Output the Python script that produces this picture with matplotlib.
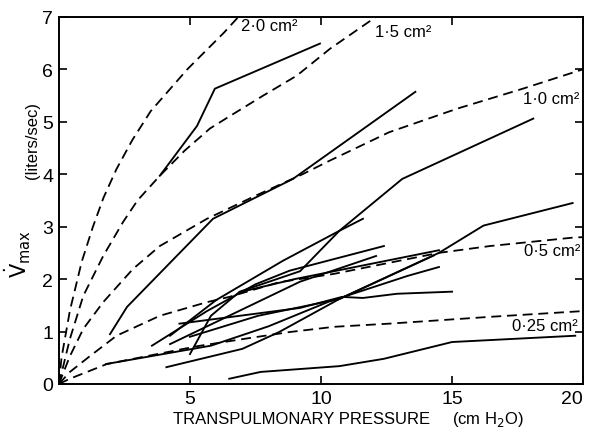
import matplotlib
matplotlib.use('Agg')
import matplotlib.pyplot as plt

plt.rcParams['font.family'] = ['Liberation Sans', 'DejaVu Sans']

# dashed iso-area curves
a20_p = [0, 0.1, 0.42, 0.87, 1.3, 1.7, 2.2, 2.8, 3.5, 4.2, 4.9, 5.6, 6.3, 6.85]
a20_v = [0, 0.5, 1.4, 2.33, 3.0, 3.55, 4.1, 4.65, 5.2, 5.6, 6.0, 6.35, 6.7, 7.0]
a15_p = [0, 0.42, 0.93, 1.69, 2.45, 3.0, 3.85, 4.8, 5.76, 6.53, 7.8, 9.08, 10.34, 12.1]
a15_v = [0, 0.86, 1.68, 2.44, 3.09, 3.5, 3.97, 4.45, 4.87, 5.11, 5.5, 5.88, 6.39, 7.0]
a10_p = [0, 0.42, 0.93, 1.69, 2.82, 3.85, 5.65, 7.55, 9.3, 10.3, 12.6, 15.2, 17.7, 20.0]
a10_v = [0, 0.53, 1.05, 1.56, 2.19, 2.63, 3.15, 3.6, 4.0, 4.25, 4.8, 5.25, 5.63, 6.0]
a05_p = [0, 0.42, 1.18, 2.2, 3.85, 5.65, 6.5, 8.4, 10.5, 12.5, 14.5, 16.45, 19.6, 20]
a05_v = [0, 0.23, 0.53, 0.92, 1.3, 1.56, 1.66, 1.94, 2.1, 2.3, 2.5, 2.63, 2.79, 2.8]
a025_p = [0, 0.42, 1.83, 5.27, 7.2, 8.8, 10.5, 12.6, 16.45, 20]
a025_v = [0, 0.1, 0.38, 0.72, 0.87, 0.99, 1.09, 1.15, 1.28, 1.39]

# individual subjects (solid)
s1 = [(3.85, 3.97), (5.27, 4.92), (5.95, 5.63), (9.96, 6.49)]
s2 = [(1.95, 0.95), (2.6, 1.47), (5.88, 3.15), (8.93, 3.91), (13.6, 5.57)]
s3 = [(5.0, 0.57), (5.8, 1.3), (6.9, 1.76), (9.2, 2.15), (10.7, 2.92), (13.1, 3.91), (18.1, 5.06)]
s4 = [(6.5, 0.1), (7.7, 0.23), (10.7, 0.34), (12.4, 0.48), (15.0, 0.8), (19.7, 0.92)]
s5 = [(4.1, 0.32), (7.0, 0.67), (8.4, 0.99), (10.7, 1.62), (14.5, 2.5), (16.2, 3.02), (19.6, 3.45)]
s6 = [(1.8, 0.38), (5.8, 0.73), (8.0, 1.1), (10.3, 1.57), (13.3, 2.06), (14.5, 2.23)]
s7 = [(4.24, 0.92), (6.0, 1.6), (8.55, 2.35), (10.7, 2.92), (11.6, 3.15)]
s8 = [(4.6, 1.15), (9.2, 1.45), (10.8, 1.66), (11.6, 1.64), (12.9, 1.72), (15.0, 1.76)]
s9 = [(3.55, 0.73), (5.65, 1.39), (7.5, 1.9), (8.8, 2.16), (12.4, 2.63)]
s10 = [(4.24, 0.76), (9.2, 1.95), (12.1, 2.44)]
s11 = [(6.9, 1.75), (9.0, 2.0), (12.0, 2.3), (14.5, 2.55)]
s12 = [(5.0, 0.9), (7.6, 1.3), (10.7, 1.62), (14.3, 2.45)]
subjects = [s1, s2, s3, s4, s5, s6, s7, s8, s9, s10, s11, s12]

fig = plt.figure(figsize=(5.89, 4.35), dpi=100)
ax = fig.add_axes([0.100, 0.115, 0.890, 0.844])

dash = (0, (5.5, 3.2))
for p, v in [(a20_p, a20_v), (a15_p, a15_v), (a10_p, a10_v), (a05_p, a05_v), (a025_p, a025_v)]:
    ax.plot(p, v, color='black', lw=1.3, linestyle=dash)

for s in subjects:
    ax.plot([q[0] for q in s], [q[1] for q in s], color='black', lw=1.35)

ax.text(6.95, 6.83, '2·0 cm²', fontsize=12, va='center')
ax.text(12.05, 6.72, '1·5 cm²', fontsize=12, va='center')
ax.text(19.85, 5.44, '1·0 cm²', fontsize=12, va='center', ha='right')
ax.text(19.9, 2.54, '0·5 cm²', fontsize=12, va='center', ha='right')
ax.text(19.8, 1.11, '0·25 cm²', fontsize=12, va='center', ha='right')

ax.set_xlim(0, 20)
ax.set_ylim(0, 7)
ax.set_xticks([5, 10, 15, 20])
ax.set_yticks(range(0, 8))
ax.tick_params(direction='in', length=6, width=1.2, labelsize=14,
               top=True, right=True, pad=4)
ax.get_xticklabels()[-1].set_horizontalalignment('right')
for sp in ax.spines.values():
    sp.set_linewidth(1.4)

fig.text(0.031, 0.416, r'$\dot{\mathrm{V}}_{\mathrm{max}}$', rotation=90,
         fontsize=15, ha='center', va='center')
fig.text(0.056, 0.678, '(liters/sec)', rotation=90, fontsize=12,
         ha='center', va='center')
fig.text(0.294, 0.035, 'TRANSPULMONARY PRESSURE', fontsize=12, ha='left', va='center')
fig.text(0.768, 0.035, '(cm H$_2$O)', fontsize=12, ha='left', va='center')

fig.savefig('out.png', dpi=100)
